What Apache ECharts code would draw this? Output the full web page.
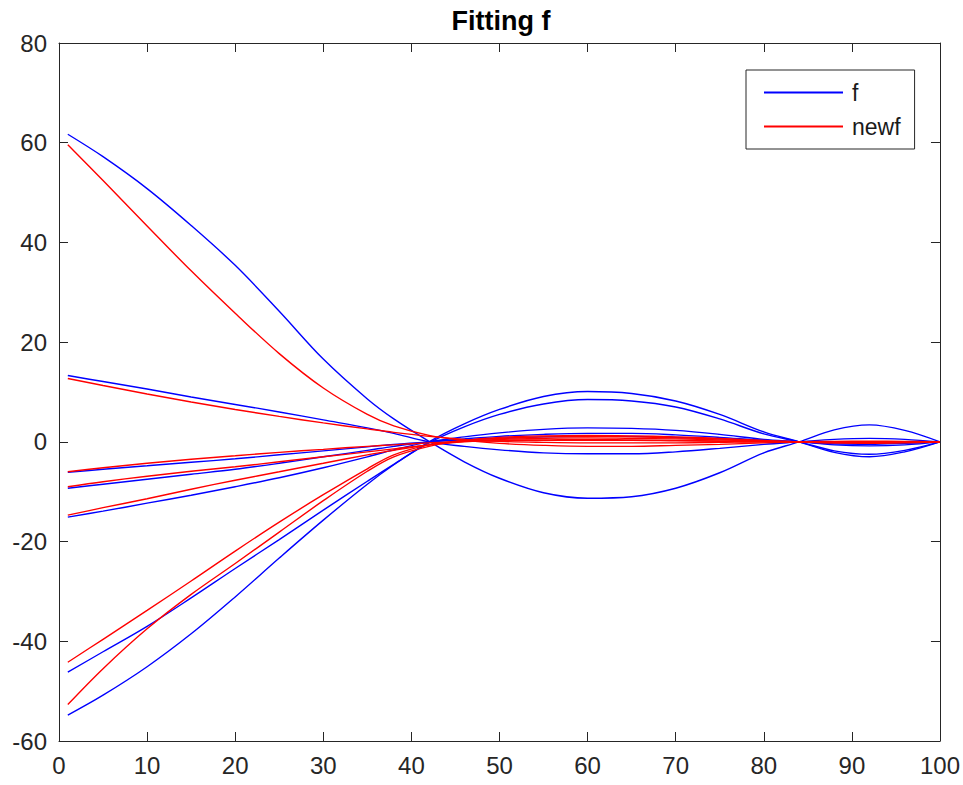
<!DOCTYPE html>
<html>
<head>
<meta charset="utf-8">
<script src="https://cdn.jsdelivr.net/npm/echarts@6/dist/echarts.min.js"></script>
<style>
html,body{margin:0;padding:0;background:#fff;}
#chart{width:963px;height:785px;}
</style>
</head>
<body>
<div id="chart"></div>
<script>
// sample positions along x
var xs = [1, 5, 10, 15, 20, 25, 30, 35, 38, 42, 46, 50, 55, 60, 65, 70, 75, 80, 84, 88, 92, 96, 100];

// f (blue)
var fA = [61.7, 57.2, 50.8, 43.4, 35.4, 26.2, 16.6, 8.6, 4.6, 0.1, -4.0, -7.3, -10.2, -11.3, -11.0, -9.3, -6.2, -2.2, 0, 2.4, 3.4, 2.3, 0];
var fB = [13.3, 12.1, 10.6, 9.0, 7.5, 6.0, 4.4, 2.8, 1.7, 0.0, -0.9, -1.6, -2.2, -2.4, -2.4, -2.0, -1.3, -0.5, 0, 0.5, 0.7, 0.5, 0];
var fC = [-6.1, -5.5, -4.8, -4.1, -3.4, -2.6, -1.8, -1.0, -0.5, 0, 0.4, 0.7, 1.0, 1.1, 1.1, 0.9, 0.6, 0.2, 0, -0.2, -0.3, -0.2, 0];
var fD = [-9.3, -8.5, -7.5, -6.5, -5.5, -4.3, -3.0, -1.7, -0.9, 0, 0.6, 1.1, 1.5, 1.7, 1.7, 1.4, 0.9, 0.3, 0, -0.4, -0.5, -0.3, 0];
var fE = [-15.1, -13.9, -12.3, -10.7, -9.0, -7.2, -5.2, -3.0, -1.6, 0, 1.0, 1.8, 2.5, 2.8, 2.7, 2.3, 1.5, 0.5, 0, -0.6, -0.8, -0.6, 0];
var fF = [-46.2, -42.1, -37.0, -31.3, -25.4, -19.6, -13.7, -7.9, -4.5, -0.2, 3.0, 5.5, 7.6, 8.5, 8.2, 7.0, 4.6, 1.6, 0, -1.8, -2.5, -1.7, 0];
var fG = [-54.8, -50.8, -45.1, -38.5, -31.1, -23.3, -15.7, -8.5, -4.6, 0, 3.6, 6.5, 9.1, 10.1, 9.7, 8.2, 5.5, 2.0, 0, -2.1, -3.0, -2.0, 0];

// newf (red)
var nA = [59.6, 52.4, 43.3, 34.3, 25.8, 17.7, 10.8, 5.5, 3.2, 1.3, 0.3, -0.3, -0.7, -0.9, -0.9, -0.7, -0.5, -0.2, 0, 0.1, 0.15, 0.1, 0];
var nB = [12.7, 11.3, 9.6, 8.0, 6.5, 5.1, 3.8, 2.6, 1.9, 1.1, 0.5, 0.1, -0.1, -0.2, -0.2, -0.2, -0.1, 0, 0, 0, 0, 0, 0];
var nC = [-6.0, -5.2, -4.3, -3.5, -2.8, -2.1, -1.5, -0.9, -0.6, -0.2, 0.1, 0.2, 0.3, 0.3, 0.3, 0.2, 0.1, 0, 0, 0, 0, 0, 0];
var nD = [-9.0, -8.0, -6.9, -5.9, -5.0, -4.0, -3.0, -2.0, -1.4, -0.6, 0, 0.3, 0.4, 0.5, 0.4, 0.3, 0.2, 0.1, 0, 0, 0, 0, 0];
var nE = [-14.7, -13.2, -11.4, -9.5, -7.7, -6.0, -4.3, -2.6, -1.7, -0.6, 0.1, 0.5, 0.7, 0.8, 0.7, 0.6, 0.4, 0.1, 0, -0.1, -0.1, -0.1, 0];
var nF = [-44.2, -39.6, -33.8, -27.9, -21.9, -16.1, -10.6, -5.4, -2.6, -0.6, 0.3, 0.7, 1.0, 1.1, 1.0, 0.8, 0.6, 0.2, 0, -0.2, -0.2, -0.1, 0];
var nG = [-52.7, -45.5, -37.5, -30.6, -24.4, -18.1, -11.8, -5.9, -3.0, -0.9, 0.3, 0.9, 1.2, 1.3, 1.2, 1.0, 0.7, 0.3, 0, -0.2, -0.3, -0.2, 0];

var fSeries = [fA, fB, fC, fD, fE, fF, fG];
var newfSeries = [nA, nB, nC, nD, nE, nF, nG];

var title = 'Fitting f';
var legendNames = ['f', 'newf'];
var xTicks = {min: 0, max: 100, interval: 10};
var yTicks = {min: -60, max: 80, interval: 20};

var FONT = 'Liberation Sans, Arial, Helvetica, sans-serif';
var AX = '#262626';

function pairs(vals) {
  return xs.map(function (x, i) { return [x, vals[i]]; });
}
function mk(name, color, vals) {
  return {
    name: name, type: 'line', data: pairs(vals),
    showSymbol: false, symbol: 'none', smooth: 0.35,
    lineStyle: {color: color, width: 1.4}, itemStyle: {color: color},
    animation: false, clip: true, z: 2
  };
}
var series = [];
fSeries.forEach(function (v) { series.push(mk('f', '#0000ff', v)); });
newfSeries.forEach(function (v) { series.push(mk('newf', '#ff0000', v)); });

function axisCommon(pos, showLabel, lim) {
  return {
    type: 'value', position: pos, min: lim.min, max: lim.max, interval: lim.interval,
    axisLine: {show: true, onZero: false, lineStyle: {color: AX, width: 1}},
    axisTick: {show: true, inside: true, length: 9, lineStyle: {color: AX, width: 1}},
    axisLabel: {show: showLabel, fontSize: 24, color: AX, fontFamily: FONT, margin: 12},
    splitLine: {show: false}
  };
}

var chart = echarts.init(document.getElementById('chart'), null, {renderer: 'svg'});
chart.setOption({
  backgroundColor: '#ffffff',
  animation: false,
  grid: {left: 59, right: 22, top: 43, bottom: 44, containLabel: false},
  xAxis: [axisCommon('bottom', true, xTicks), axisCommon('top', false, xTicks)],
  yAxis: [axisCommon('left', true, yTicks), axisCommon('right', false, yTicks)],
  legend: {
    data: legendNames, orient: 'vertical', left: 746, top: 70,
    icon: 'rect', itemWidth: 79, itemHeight: 2, itemGap: 11,
    padding: [11, 14, 11, 18],
    borderColor: AX, borderWidth: 1, backgroundColor: '#fff',
    textStyle: {fontSize: 23, color: '#1a1a1a', fontFamily: FONT, padding: [0, 0, 0, 4]},
    selectedMode: false
  },
  graphic: [{
    type: 'text', x: 501, y: 7,
    style: {text: title, fill: '#000', font: 'bold 27px ' + FONT, textAlign: 'center', textVerticalAlign: 'top'}
  }],
  series: series
});
</script>
</body>
</html>
